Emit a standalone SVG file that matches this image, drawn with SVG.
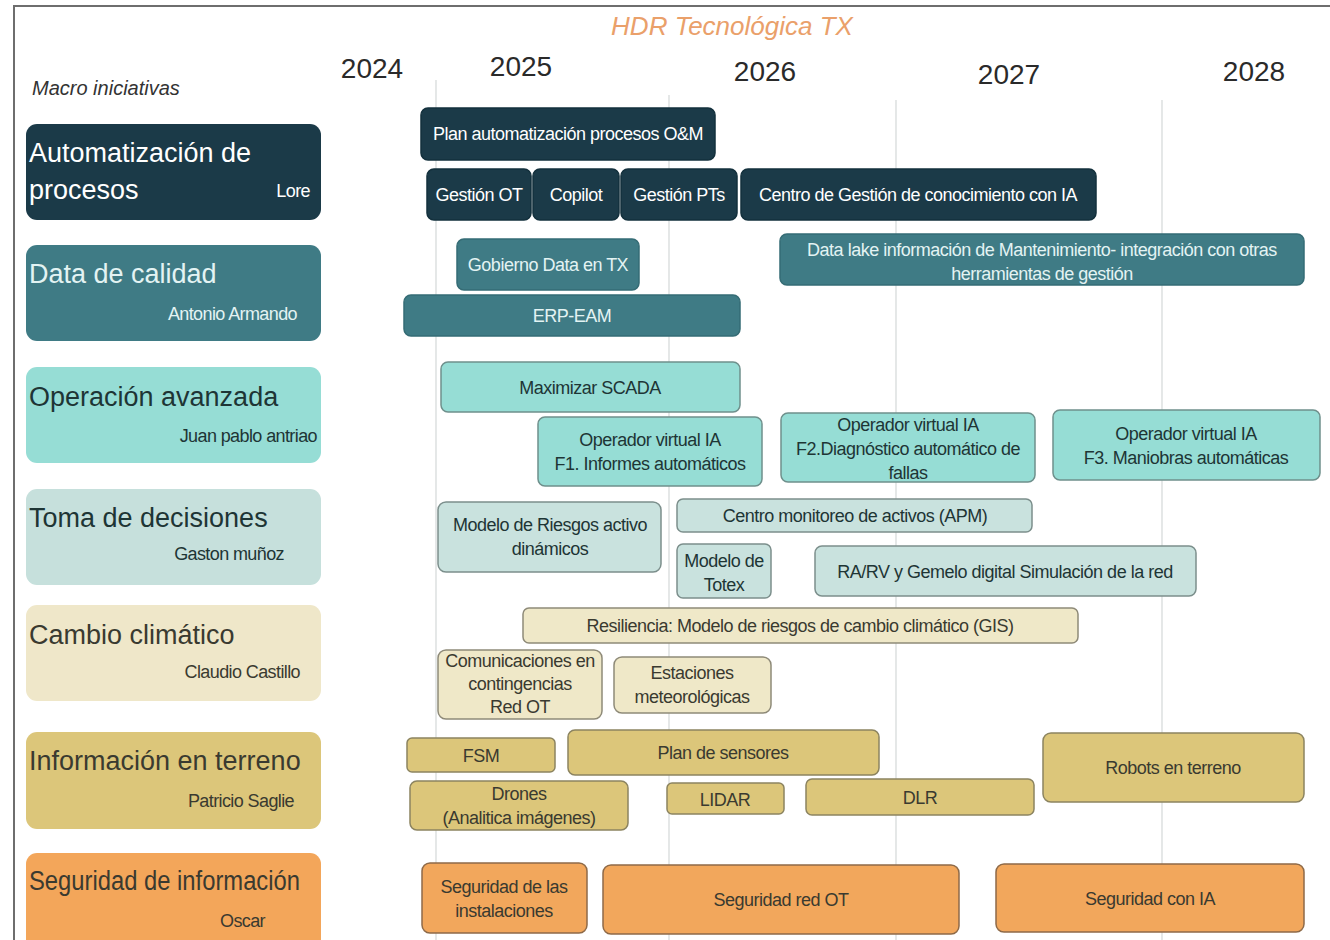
<svg xmlns="http://www.w3.org/2000/svg" width="1330" height="940" viewBox="0 0 1330 940">
<style>
.bg{fill:#ffffff}
.frame{stroke:#6e6e6e;stroke-width:2;fill:none}
.grid{stroke:#d4d8d8;stroke-width:1.2}
.title{font-family:"Liberation Sans",Arial,sans-serif;font-style:italic;font-size:26px;fill:#eaa06a}
.macro{font-family:"Liberation Sans",Arial,sans-serif;font-style:italic;font-size:20px;fill:#333}
.year{font-family:"Liberation Sans",Arial,sans-serif;font-size:28px;fill:#2a2a2a;text-anchor:middle}
.cat{font-family:"Liberation Sans",Arial,sans-serif;font-size:27px}
.own{font-family:"Liberation Sans Narrow","Liberation Sans",Arial,sans-serif;font-size:18px;text-anchor:end;letter-spacing:-0.6px}
.bt{font-family:"Liberation Sans Narrow","Liberation Sans",Arial,sans-serif;font-size:18px;text-anchor:middle;letter-spacing:-0.5px}
.c1{fill:#1b3a48}
.c2{fill:#3f7b85}
.c3{fill:#96ddd5}
.c4{fill:#c6e0dc}
.c5{fill:#efe7c9}
.c6{fill:#dcc67a}
.c7{fill:#f3a65a}
.b1{fill:#1b3a48;stroke:#13303c;stroke-width:1.5}
.b2{fill:#3f7b85;stroke:#356c75;stroke-width:1.5}
.b3{fill:#96ddd5;stroke:#6f908c;stroke-width:1.5}
.b4{fill:#c9e2de;stroke:#7c8f8c;stroke-width:1.5}
.b5{fill:#efe8c8;stroke:#8e8a78;stroke-width:1.5}
.b6{fill:#dcc67a;stroke:#8c8460;stroke-width:1.5}
.b7{fill:#f2a75c;stroke:#8e6a48;stroke-width:1.5}
.tw{fill:#ffffff}
.tl{fill:#e3f3f3}
.td{fill:#1e3535}
.tk{fill:#3a3a30}
</style>
<rect class="bg" x="0" y="0" width="1330" height="940"/>
<path class="frame" d="M14 940 V6 H1330"/>
<g id="grid">
<line class="grid" x1="436" y1="80" x2="436" y2="940"/>
<line class="grid" x1="669" y1="95" x2="669" y2="940"/>
<line class="grid" x1="896" y1="100" x2="896" y2="940"/>
<line class="grid" x1="1162" y1="100" x2="1162" y2="940"/>
</g>
<g id="header">
<text class="title" x="732" y="35" text-anchor="middle">HDR Tecnológica TX</text>
<text class="macro" x="32" y="95">Macro iniciativas</text>
<text class="year" x="372" y="78">2024</text>
<text class="year" x="521" y="76">2025</text>
<text class="year" x="765" y="81">2026</text>
<text class="year" x="1009" y="84">2027</text>
<text class="year" x="1254" y="81">2028</text>
</g>
<g id="cat-automatizacion">
<rect class="c1" x="26" y="124" width="295" height="96" rx="11"/>
<text class="cat tw" x="29" y="162">Automatización de</text>
<text class="cat tw" x="29" y="199">procesos</text>
<text class="own tw" x="310" y="197">Lore</text>
</g>
<g id="cat-data">
<rect class="c2" x="26" y="245" width="295" height="96" rx="11"/>
<text class="cat tl" x="29" y="283">Data de calidad</text>
<text class="own tl" x="297" y="320">Antonio Armando</text>
</g>
<g id="cat-operacion">
<rect class="c3" x="26" y="367" width="295" height="96" rx="11"/>
<text class="cat td" x="29" y="406">Operación avanzada</text>
<text class="own td" x="317" y="442">Juan pablo antriao</text>
</g>
<g id="cat-toma">
<rect class="c4" x="26" y="489" width="295" height="96" rx="11"/>
<text class="cat td" x="29" y="527">Toma de decisiones</text>
<text class="own td" x="284" y="560">Gaston muñoz</text>
</g>
<g id="cat-cambio">
<rect class="c5" x="26" y="605" width="295" height="96" rx="11"/>
<text class="cat tk" x="29" y="644">Cambio climático</text>
<text class="own tk" x="300" y="678">Claudio Castillo</text>
</g>
<g id="cat-informacion">
<rect class="c6" x="26" y="732" width="295" height="97" rx="11"/>
<text class="cat tk" x="29" y="770">Información en terreno</text>
<text class="own tk" x="294" y="807">Patricio Saglie</text>
</g>
<g id="cat-seguridad">
<rect class="c7" x="26" y="853" width="295" height="100" rx="11"/>
<text class="cat tk" x="29" y="890" textLength="271" lengthAdjust="spacingAndGlyphs">Seguridad de información</text>
<text class="own tk" x="265" y="927">Oscar</text>
</g>
<g id="row1">
<g id="plan-om"><rect class="b1" x="421" y="108" width="294" height="52" rx="7"/><text class="bt tw" x="568" y="140">Plan automatización procesos O&amp;M</text></g>
<g id="gestion-ot"><rect class="b1" x="427" y="169" width="104" height="51" rx="7"/><text class="bt tw" x="479" y="201">Gestión OT</text></g>
<g id="copilot"><rect class="b1" x="533" y="169" width="86" height="51" rx="7"/><text class="bt tw" x="576" y="201">Copilot</text></g>
<g id="gestion-pts"><rect class="b1" x="621" y="169" width="116" height="51" rx="7"/><text class="bt tw" x="679" y="201">Gestión PTs</text></g>
<g id="centro-gestion"><rect class="b1" x="741" y="169" width="355" height="51" rx="7"/><text class="bt tw" x="918" y="201">Centro de Gestión de conocimiento con IA</text></g>
</g>
<g id="row2">
<g id="gobierno"><rect class="b2" x="457" y="239" width="182" height="51" rx="7"/><text class="bt tl" x="548" y="271">Gobierno Data en TX</text></g>
<g id="erp"><rect class="b2" x="404" y="295" width="336" height="41" rx="7"/><text class="bt tl" x="572" y="322">ERP-EAM</text></g>
<g id="datalake"><rect class="b2" x="780" y="234" width="524" height="51" rx="7"/><text class="bt tl" x="1042" y="256">Data lake información de Mantenimiento- integración con otras</text><text class="bt tl" x="1042" y="280">herramientas de gestión</text></g>
</g>
<g id="row3">
<g id="scada"><rect class="b3" x="441" y="362" width="299" height="50" rx="7"/><text class="bt td" x="590" y="394">Maximizar SCADA</text></g>
<g id="op-f1"><rect class="b3" x="538" y="417" width="224" height="69" rx="7"/><text class="bt td" x="650" y="446">Operador virtual IA</text><text class="bt td" x="650" y="470">F1. Informes automáticos</text></g>
<g id="op-f2"><rect class="b3" x="781" y="413" width="254" height="69" rx="7"/><text class="bt td" x="908" y="431">Operador virtual IA</text><text class="bt td" x="908" y="455">F2.Diagnóstico automático de</text><text class="bt td" x="908" y="479">fallas</text></g>
<g id="op-f3"><rect class="b3" x="1053" y="410" width="267" height="70" rx="7"/><text class="bt td" x="1186" y="440">Operador virtual IA</text><text class="bt td" x="1186" y="464">F3. Maniobras automáticas</text></g>
</g>
<g id="row4">
<g id="riesgos"><rect class="b4" x="438" y="502" width="223" height="70" rx="8"/><text class="bt td" x="550" y="531">Modelo de Riesgos activo</text><text class="bt td" x="550" y="555">dinámicos</text></g>
<g id="apm"><rect class="b4" x="677" y="499" width="355" height="33" rx="6"/><text class="bt td" x="855" y="522">Centro monitoreo de activos (APM)</text></g>
<g id="totex"><rect class="b4" x="677" y="544" width="94" height="54" rx="6"/><text class="bt td" x="724" y="567">Modelo de</text><text class="bt td" x="724" y="591">Totex</text></g>
<g id="rarv"><rect class="b4" x="815" y="546" width="381" height="50" rx="7"/><text class="bt td" x="1005" y="578">RA/RV y Gemelo digital Simulación de la red</text></g>
</g>
<g id="row5">
<g id="resiliencia"><rect class="b5" x="523" y="608" width="555" height="35" rx="6"/><text class="bt tk" x="800" y="632">Resiliencia: Modelo de riesgos de cambio climático (GIS)</text></g>
<g id="comunicaciones"><rect class="b5" x="438" y="650" width="164" height="69" rx="8"/><text class="bt tk" x="520" y="667">Comunicaciones en</text><text class="bt tk" x="520" y="690">contingencias</text><text class="bt tk" x="520" y="713">Red OT</text></g>
<g id="estaciones"><rect class="b5" x="614" y="657" width="157" height="56" rx="8"/><text class="bt tk" x="692" y="679">Estaciones</text><text class="bt tk" x="692" y="703">meteorológicas</text></g>
</g>
<g id="row6">
<g id="fsm"><rect class="b6" x="407" y="738" width="148" height="34" rx="5"/><text class="bt tk" x="481" y="762">FSM</text></g>
<g id="sensores"><rect class="b6" x="568" y="730" width="311" height="45" rx="7"/><text class="bt tk" x="723" y="759">Plan de sensores</text></g>
<g id="drones"><rect class="b6" x="410" y="781" width="218" height="49" rx="7"/><text class="bt tk" x="519" y="800">Drones</text><text class="bt tk" x="519" y="824">(Analitica imágenes)</text></g>
<g id="lidar"><rect class="b6" x="667" y="783" width="117" height="31" rx="5"/><text class="bt tk" x="725" y="806">LIDAR</text></g>
<g id="dlr"><rect class="b6" x="806" y="779" width="228" height="36" rx="6"/><text class="bt tk" x="920" y="804">DLR</text></g>
<g id="robots"><rect class="b6" x="1043" y="733" width="261" height="69" rx="8"/><text class="bt tk" x="1173" y="774">Robots en terreno</text></g>
</g>
<g id="row7">
<g id="seg-inst"><rect class="b7" x="422" y="863" width="165" height="70" rx="8"/><text class="bt tk" x="504" y="893">Seguridad de las</text><text class="bt tk" x="504" y="917">instalaciones</text></g>
<g id="seg-ot"><rect class="b7" x="603" y="865" width="356" height="69" rx="8"/><text class="bt tk" x="781" y="906">Seguridad red OT</text></g>
<g id="seg-ia"><rect class="b7" x="996" y="864" width="308" height="68" rx="8"/><text class="bt tk" x="1150" y="905">Seguridad con IA</text></g>
</g>
<g id="connectors"></g>
</svg>
